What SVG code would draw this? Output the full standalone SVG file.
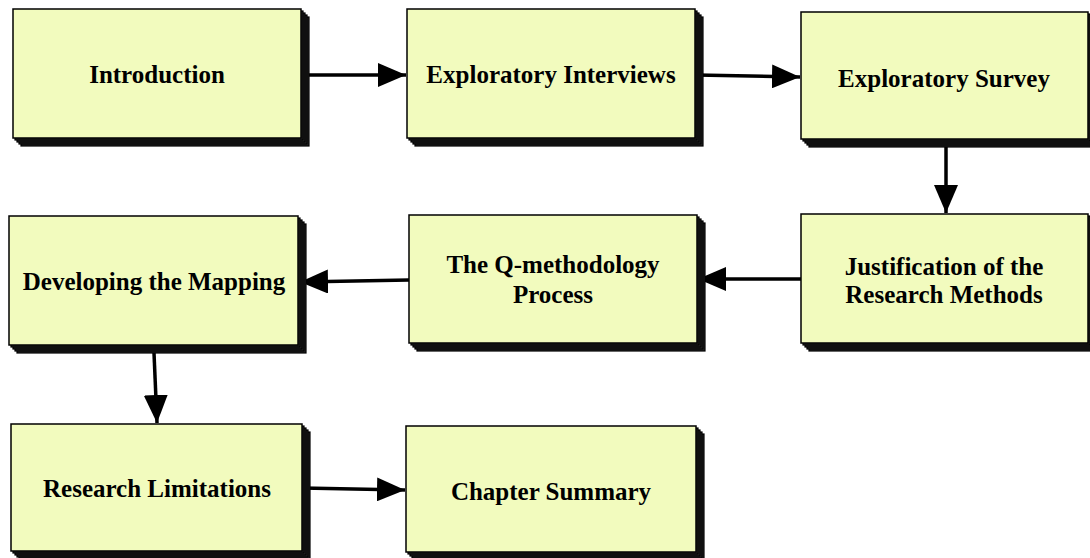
<svg xmlns="http://www.w3.org/2000/svg" width="1090" height="558" viewBox="0 0 1090 558">
<style>
.sh{fill:#2a2a2a;stroke:#000;stroke-width:1.2}
.bx{fill:#F2FBBE;stroke:#000;stroke-width:1.5}
.t{font-family:"Liberation Serif","Times New Roman",serif;font-weight:bold;font-size:25px;fill:#000;text-anchor:middle}
.c{stroke:#000;stroke-width:3.5;fill:none}
</style>
<defs>
<marker id="ah" markerUnits="userSpaceOnUse" markerWidth="29" markerHeight="24" refX="28" refY="12" orient="auto" viewBox="0 0 29 24">
<path d="M0,0 L28,12 L0,24 Z" fill="#000"/>
</marker>
</defs>
<rect width="1090" height="558" fill="#fff"/>
<g id="connectors">
<line class="c" x1="302" y1="75" x2="406" y2="75" marker-end="url(#ah)"/>
<line class="c" x1="696" y1="75" x2="800" y2="77" marker-end="url(#ah)"/>
<line class="c" x1="946" y1="140" x2="946" y2="213" marker-end="url(#ah)"/>
<line class="c" x1="801" y1="279" x2="698" y2="279" marker-end="url(#ah)"/>
<line class="c" x1="409" y1="280" x2="300" y2="282" marker-end="url(#ah)"/>
<line class="c" x1="154" y1="353" x2="157" y2="423" marker-end="url(#ah)"/>
<line class="c" x1="302" y1="488" x2="405" y2="490" marker-end="url(#ah)"/>
</g>
<g id="n1">
<rect class="sh" x="21" y="17" width="288" height="129"/><rect class="sh" x="19" y="15" width="288" height="129"/><rect class="sh" x="17" y="13" width="288" height="129"/><rect class="sh" x="15" y="11" width="288" height="129"/>
<rect class="bx" x="13" y="9" width="288" height="129"/>
<text class="t" x="157" y="83">Introduction</text>
</g>
<g id="n2">
<rect class="sh" x="415" y="17" width="288" height="129"/><rect class="sh" x="413" y="15" width="288" height="129"/><rect class="sh" x="411" y="13" width="288" height="129"/><rect class="sh" x="409" y="11" width="288" height="129"/>
<rect class="bx" x="407" y="9" width="288" height="129"/>
<text class="t" x="551" y="83">Exploratory Interviews</text>
</g>
<g id="n3">
<rect class="sh" x="809" y="20" width="287" height="127"/><rect class="sh" x="807" y="18" width="287" height="127"/><rect class="sh" x="805" y="16" width="287" height="127"/><rect class="sh" x="803" y="14" width="287" height="127"/>
<rect class="bx" x="801" y="12" width="287" height="127"/>
<text class="t" x="944" y="87">Exploratory Survey</text>
</g>
<g id="n4">
<rect class="sh" x="809" y="222" width="287" height="129"/><rect class="sh" x="807" y="220" width="287" height="129"/><rect class="sh" x="805" y="218" width="287" height="129"/><rect class="sh" x="803" y="216" width="287" height="129"/>
<rect class="bx" x="801" y="214" width="287" height="129"/>
<text class="t" x="944" y="275">Justification of the</text>
<text class="t" x="944" y="303">Research Methods</text>
</g>
<g id="n5">
<rect class="sh" x="417" y="223" width="288" height="128"/><rect class="sh" x="415" y="221" width="288" height="128"/><rect class="sh" x="413" y="219" width="288" height="128"/><rect class="sh" x="411" y="217" width="288" height="128"/>
<rect class="bx" x="409" y="215" width="288" height="128"/>
<text class="t" x="553" y="273">The Q-methodology</text>
<text class="t" x="553" y="303">Process</text>
</g>
<g id="n6">
<rect class="sh" x="17" y="224" width="289" height="129"/><rect class="sh" x="15" y="222" width="289" height="129"/><rect class="sh" x="13" y="220" width="289" height="129"/><rect class="sh" x="11" y="218" width="289" height="129"/>
<rect class="bx" x="9" y="216" width="289" height="129"/>
<text class="t" x="154" y="290">Developing the Mapping</text>
</g>
<g id="n7">
<rect class="sh" x="19" y="432" width="291" height="127"/><rect class="sh" x="17" y="430" width="291" height="127"/><rect class="sh" x="15" y="428" width="291" height="127"/><rect class="sh" x="13" y="426" width="291" height="127"/>
<rect class="bx" x="11" y="424" width="291" height="127"/>
<text class="t" x="157" y="497">Research Limitations</text>
</g>
<g id="n8">
<rect class="sh" x="414" y="434" width="290" height="126"/><rect class="sh" x="412" y="432" width="290" height="126"/><rect class="sh" x="410" y="430" width="290" height="126"/><rect class="sh" x="408" y="428" width="290" height="126"/>
<rect class="bx" x="406" y="426" width="290" height="126"/>
<text class="t" x="551" y="500">Chapter Summary</text>
</g>
</svg>
